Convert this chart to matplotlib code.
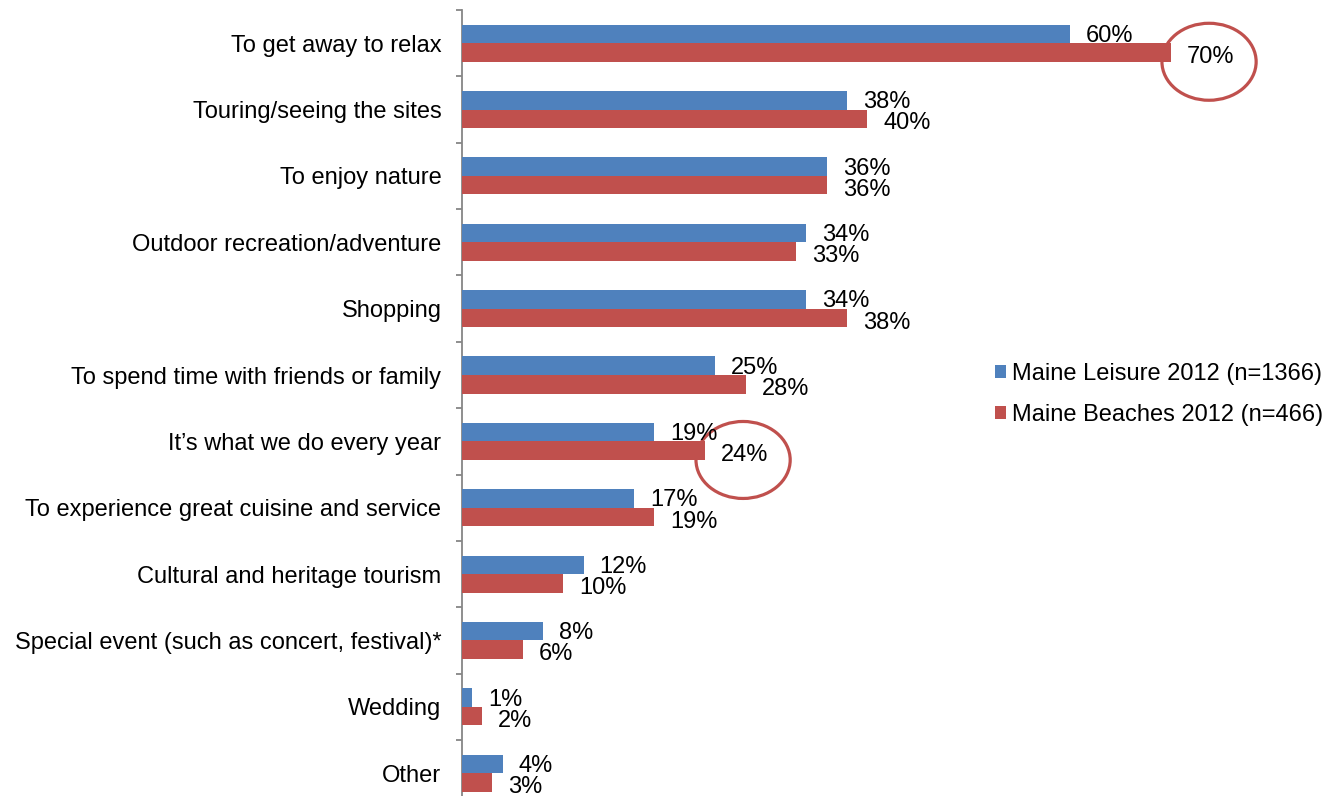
import matplotlib
matplotlib.use("Agg")
import matplotlib.pyplot as plt
from matplotlib.patches import Ellipse
import numpy as np

categories = [
    "To get away to relax",
    "Touring/seeing the sites",
    "To enjoy nature",
    "Outdoor recreation/adventure",
    "Shopping",
    "To spend time with friends or family",
    "It\u2019s what we do every year",
    "To experience great cuisine and service",
    "Cultural and heritage tourism",
    "Special event (such as concert, festival)*",
    "Wedding",
    "Other",
]
leisure = [60, 38, 36, 34, 34, 25, 19, 17, 12, 8, 1, 4]
beaches = [70, 40, 36, 33, 38, 28, 24, 19, 10, 6, 2, 3]
series_names = ["Maine Leisure 2012 (n=1366)", "Maine Beaches 2012 (n=466)"]
highlighted = [0, 6]  # beaches values circled

BLUE = "#4F81BD"
RED = "#C0504D"
GRAY = "#868686"
FS = 17

plt.rcParams["font.family"] = ["Liberation Sans", "DejaVu Sans"]

W, H = 1329, 796
fig = plt.figure(figsize=(W / 100, H / 100), dpi=100)
ax_left = 462 / W
ax_top_px, ax_bot_px = 10, 806.4
ax = fig.add_axes([ax_left, 1 - ax_bot_px / H, 861 / W, (ax_bot_px - ax_top_px) / H])

y = np.arange(len(categories))
bh = 0.28
ax.barh(y - bh / 2, leisure, height=bh, color=BLUE, label=series_names[0], zorder=3)
ax.barh(y + bh / 2, beaches, height=bh, color=RED, label=series_names[1], zorder=3)

for i, (a, b) in enumerate(zip(leisure, beaches)):
    ax.annotate(f"{a}%", (a, i - bh / 2 + 0.03), xytext=(11.5, 0), textcoords="offset points",
                va="center", ha="left", fontsize=FS, zorder=5)
    ax.annotate(f"{b}%", (b, i + bh / 2 + 0.07), xytext=(11.5, 0), textcoords="offset points",
                va="center", ha="left", fontsize=FS, zorder=5)

for i in highlighted:
    e = Ellipse((beaches[i] + 3.75, i + 0.28), width=9.3, height=1.16, fill=False,
                edgecolor=RED, linewidth=2.3, zorder=2)
    ax.add_patch(e)

ax.set_xlim(0, 85)
ax.set_ylim(len(categories) - 0.5, -0.5)

for s in ["top", "right", "bottom"]:
    ax.spines[s].set_visible(False)
ax.spines["left"].set_color(GRAY)
ax.spines["left"].set_linewidth(1.3)
ax.set_xticks([])

ax.set_yticks(np.arange(-0.5, len(categories) + 0.5, 1))
ax.set_yticklabels([])
ax.tick_params(axis="y", which="major", length=4.3, width=1.3, color=GRAY, direction="out")
ax.set_yticks(y, minor=True)
ax.set_yticklabels(categories, minor=True, fontsize=FS)
ax.tick_params(axis="y", which="minor", length=0, pad=14.8)

leg = fig.legend(loc="center left", bbox_to_anchor=(995 / W, 1 - 394.5 / H),
                 frameon=False, fontsize=FS, handlelength=0.47, handleheight=0.47,
                 handletextpad=0.25, labelspacing=0.81, borderpad=0, borderaxespad=0)

fig.savefig("out.png", dpi=100)
